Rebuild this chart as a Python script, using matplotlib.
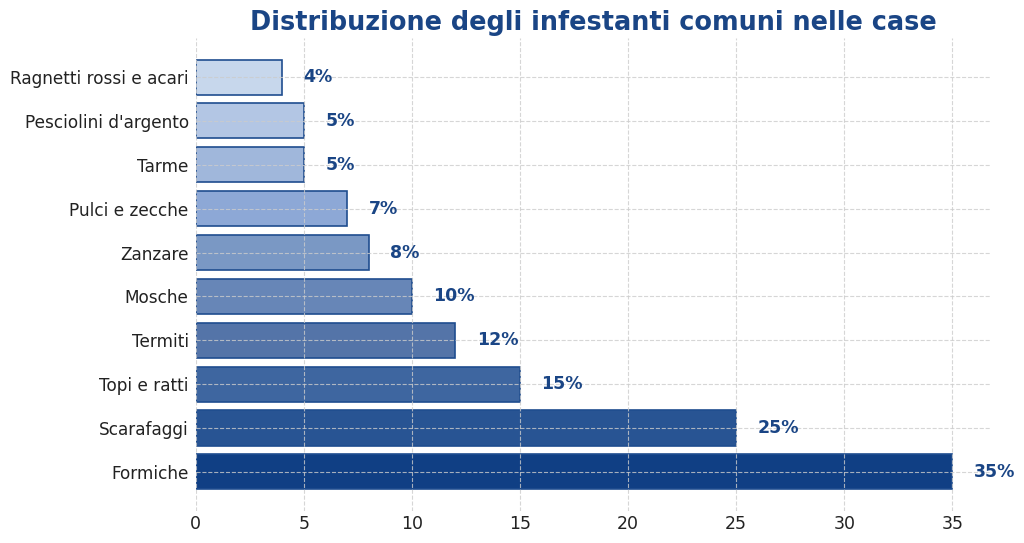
import matplotlib
matplotlib.use("Agg")
import matplotlib.pyplot as plt

categories = ["Formiche", "Scarafaggi", "Topi e ratti", "Termiti", "Mosche", "Zanzare",
              "Pulci e zecche", "Tarme", "Pesciolini d'argento", "Ragnetti rossi e acari"]
values = [35, 25, 15, 12, 10, 8, 7, 5, 5, 4]
colors = ["#103f84", "#285493", "#3e66a0", "#5474a8", "#6786b7", "#7a98c4",
          "#8da8d6", "#a0b7db", "#b3c6e4", "#c7d7ec"]

fig = plt.figure(figsize=(10.24, 5.43), dpi=100)
ax = fig.add_axes([0.191, 0.059, 0.776, 0.871])
ypos = list(range(len(categories)))
ax.barh(ypos, values, height=0.8, color=colors, edgecolor="#1f4d8f", linewidth=1.2, zorder=1)
ax.set_yticks(ypos)
ax.set_yticklabels(categories, fontsize=12.2, color="#222222")
ax.set_xlim(0, 36.75)
ax.set_xticks([0, 5, 10, 15, 20, 25, 30, 35])
ax.tick_params(axis="x", labelsize=12.5, colors="#222222", length=0, pad=3)
ax.tick_params(axis="y", length=0, pad=5)
for s in ax.spines.values():
    s.set_visible(False)
ax.grid(True, linestyle="--", color="#cccccc", alpha=0.8, linewidth=0.8, zorder=3)
ax.set_axisbelow(False)
for y, v in zip(ypos, values):
    ax.text(v + 1, y, f"{v}%", va="center", ha="left", fontsize=12.5,
            fontweight="bold", color="#1a4585")
fig.suptitle("Distribuzione degli infestanti comuni nelle case", x=0.579, y=0.982,
             fontsize=18.4, fontweight="bold", color="#1a4585")
fig.savefig("out.png", dpi=100)
